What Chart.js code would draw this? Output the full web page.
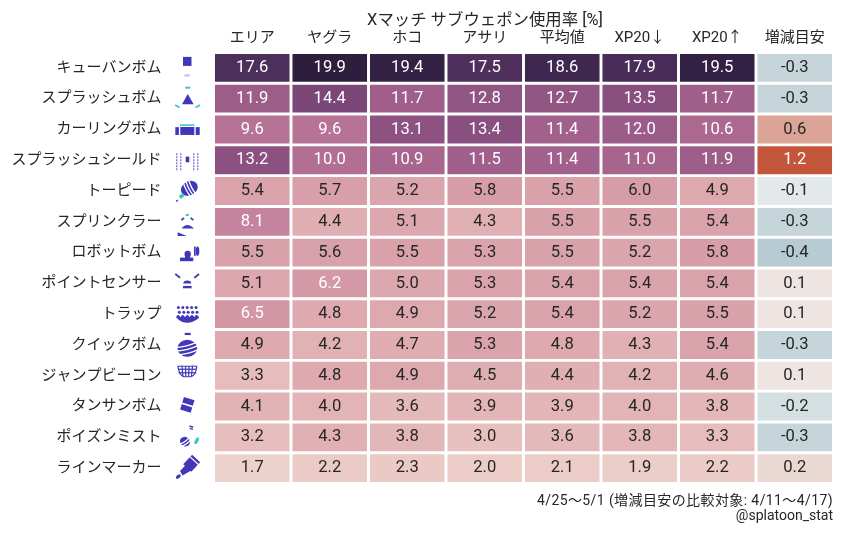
<!DOCTYPE html>
<html>
<head>
<meta charset="utf-8">
<script src="https://cdn.jsdelivr.net/npm/chart.js@4"></script>
<style>
  html,body{margin:0;padding:0;background:#fff;}
  #wrap{width:843px;height:533px;}
</style>
</head>
<body>
<div id="wrap"><canvas id="c" width="843" height="533"></canvas></div>
<script>
const FONT = 'Roboto, "Noto Sans CJK JP"';
const INK = "#262626";
const BLUE = "#4038b8";
const TEAL = "#3cc8c0";

// ---------- data ----------
const weapons = ["キューバンボム","スプラッシュボム","カーリングボム","スプラッシュシールド","トーピード","スプリンクラー","ロボットボム","ポイントセンサー","トラップ","クイックボム","ジャンプビーコン","タンサンボム","ポイズンミスト","ラインマーカー"];
const columns = ["エリア","ヤグラ","ホコ","アサリ","平均値","XP20↓","XP20↑","増減目安"];
const area   = [17.6,11.9,9.6,13.2,5.4,8.1,5.5,5.1,6.5,4.9,3.3,4.1,3.2,1.7];
const yagura = [19.9,14.4,9.6,10.0,5.7,4.4,5.6,6.2,4.8,4.2,4.8,4.0,4.3,2.2];
const hoko   = [19.4,11.7,13.1,10.9,5.2,5.1,5.5,5.0,4.9,4.7,4.9,3.6,3.8,2.3];
const asari  = [17.5,12.8,13.4,11.5,5.8,4.3,5.3,5.3,5.2,5.3,4.5,3.9,3.0,2.0];
const mean   = [18.6,12.7,11.4,11.4,5.5,5.5,5.5,5.4,5.4,4.8,4.4,3.9,3.6,2.1];
const xpLow  = [17.9,13.5,12.0,11.0,6.0,5.5,5.2,5.4,5.2,4.3,4.2,4.0,3.8,1.9];
const xpHigh = [19.5,11.7,10.6,11.9,4.9,5.4,5.8,5.4,5.5,5.4,4.6,3.8,3.3,2.2];
const delta  = [-0.3,-0.3,0.6,1.2,-0.1,-0.3,-0.4,0.1,0.1,-0.3,0.1,-0.2,-0.3,0.2];
const usage = [area,yagura,hoko,asari,mean,xpLow,xpHigh];

// ---------- colours ----------
// same maths as seaborn cubehelix_palette() defaults
function cubehelix(t){
  const x = .85-.7*t, a = .8*x*(1-x)/2, phi = 2*Math.PI*.4*x;
  const c = (p0,p1)=>Math.round(255*Math.min(1,Math.max(0,x+a*(p0*Math.cos(phi)+p1*Math.sin(phi)))));
  return [c(-.14861,1.78277),c(-.29227,-.90649),c(1.97294,0)];
}
const VMIN = 1.7, VMAX = 19.9, DMAX = 1.2;
function usageColor(v){ return cubehelix((v-VMIN)/(VMAX-VMIN)); }
function deltaColor(v){                     // diverging_palette(220,20)
  const end = v<0 ? [63,127,147] : [195,85,58];
  const t = Math.min(1,Math.abs(v)/DMAX);
  return end.map(e=>Math.round(242+(e-242)*t));
}
function cellColor(col,row){
  return col<usage.length ? usageColor(usage[col][row]) : deltaColor(delta[row]);
}
function lum(rgb){
  const l = rgb.map(v=>{v/=255;return v<=.03928 ? v/12.92 : Math.pow((v+.055)/1.055,2.4);});
  return .2126*l[0]+.7152*l[1]+.0722*l[2];
}
const css = rgb => `rgb(${rgb[0]},${rgb[1]},${rgb[2]})`;

// ---------- icons ----------
function rrect(ctx,x,y,w,h,rot){
  ctx.save();ctx.translate(x,y);ctx.rotate(rot||0);ctx.fillRect(-w/2,-h/2,w,h);ctx.restore();
}
function ell(ctx,x,y,rx,ry,rot){
  ctx.beginPath();ctx.ellipse(x,y,rx,ry,rot||0,0,Math.PI*2);ctx.fill();
}
function stripes(ctx,x,y,r,rot,ys){
  ctx.save();ctx.translate(x,y);ctx.rotate(rot);ctx.strokeStyle="#fff";ctx.lineWidth=1.3;
  ys.forEach(d=>{ctx.beginPath();ctx.moveTo(-r,d);ctx.quadraticCurveTo(0,d+2,r,d);ctx.stroke();});
  ctx.restore();
}
const icons = [
  (c)=>{ c.fillRect(-4,-11,8.5,9); c.fillStyle="#c8c6ea"; rrect(c,0,7.5,5,2.5); },
  (c)=>{ c.beginPath();c.moveTo(.7,-4.7);c.lineTo(6.7,5.6);c.lineTo(-5,5.6);c.closePath();c.fill();
         c.fillStyle=TEAL; rrect(c,.7,-11,5,2); rrect(c,-9.7,7.6,5,1.8,.5); rrect(c,10.7,7.6,5,1.8,-.5); },
  (c)=>{ c.fillRect(-6.7,-2.5,14,8); c.fillRect(-11.7,-2.3,3.6,7.8); c.fillRect(8.7,-2.3,4,7.8);
         c.fillStyle=TEAL; c.fillRect(-7,-5.2,14.3,1.6); },
  (c)=>{ c.fillRect(-1.3,-3.6,3.6,5.6); c.fillStyle="#7a74d2";
         [-10.3,-6.3,6.7,10.7].forEach(x=>{ for(let k=0;k<6;k++) c.fillRect(x-.6,-7+k*3,1.3,2); }); },
  (c)=>{ ell(c,2.3,-2.7,8.8,7,-.5); stripes(c,2.3,-2.7,9,1.1,[-3.5,-.5,2.5]);
         c.fillStyle=TEAL; rrect(c,-5.3,5,5,3.6,-.7); c.fillStyle=BLUE; rrect(c,-10,9.7,2,1.4,-.6); },
  (c)=>{ c.beginPath();c.moveTo(-5.5,6.8);c.quadraticCurveTo(0,-.5,7,6.8);c.closePath();c.fill();
         rrect(c,-4.3,-2.8,3.6,1.8,-.7); rrect(c,5,-2.8,3.6,1.8,.7);
         c.fillStyle=TEAL; rrect(c,.3,-6.9,3,2); },
  (c)=>{ c.beginPath();c.moveTo(-9.3,-20.4);c.lineTo(-.3,-16.7);c.lineTo(-9.3,-16.7);c.closePath();c.fill();
         c.fillRect(7,-6,1.6,9.3); ell(c,10.5,-1.4,1.8,4.6);
         ell(c,.7,1.3,3.2,3.2); c.fillRect(-7,5,13.3,3.6); c.fillRect(-2,3,5.2,3); },
  (c)=>{ rrect(c,-9.3,-7.5,6,1.8,.65); rrect(c,9.7,-7.5,6,1.8,-.65);
         c.beginPath();c.ellipse(.3,0,4,3,0,Math.PI,0);c.fill(); c.fillRect(-4,2.5,8.6,2.4); },
  (c)=>{ for(let r=0;r<2;r++) for(let k=0;k<5;k++) ell(c,-8.6+k*4.4+r,-6.6+r*4.6,1.5,1.5);
         c.beginPath();c.moveTo(-11,3);
         for(let k=0;k<5;k++){ c.quadraticCurveTo(-9+k*4.6,-1.5,-6.5+k*4.6,3); }
         c.lineTo(12.2,3.5);c.quadraticCurveTo(6,8.5,.5,8.5);c.quadraticCurveTo(-6,8.5,-11,3);c.fill(); },
  (c)=>{ rrect(c,.7,-11,6,2.2); ell(c,.3,3.3,9.8,8.6); stripes(c,.3,3.3,11,-.25,[-3.5,0,4]); },
  (c)=>{ c.strokeStyle=BLUE;c.lineWidth=1.2;
         c.beginPath();c.moveTo(-9,-9.5);c.lineTo(9.7,-9.5);c.quadraticCurveTo(9,-.5,4,1);c.lineTo(-3,1);c.quadraticCurveTo(-8,-.5,-9,-9.5);c.closePath();c.stroke();
         [-5,-1.5,2,5.5].forEach(x=>{c.beginPath();c.moveTo(x,-9.5);c.lineTo(x*.8,1);c.stroke();});
         [-6.5,-3].forEach(y=>{c.beginPath();c.moveTo(-8.5,y);c.lineTo(9.2,y);c.stroke();});
         c.fillStyle=TEAL; rrect(c,-5.5,-10.6,1.4,1); rrect(c,5.5,-10.6,1.4,1); },
  (c)=>{ rrect(c,.3,-1.6,11,13,.3); c.fillStyle="#fff"; rrect(c,.3,-1.6,13,1.7,.3); },
  (c)=>{ rrect(c,4.3,-10.7,4,1.5,.3); rrect(c,4.3,-8.4,3.4,1.3,.3);
         ell(c,-2,4.3,4.6,5.2,-1); stripes(c,-2,4.3,6,-.6,[-1,1.8]);
         c.fillStyle=TEAL; ell(c,9.7,3.3,1.7,3.8,.5); },
  (c)=>{ rrect(c,4.7,-4.9,11,13,.75); c.fillStyle="#fff"; rrect(c,7.2,-7.4,12,1.2,.75); c.fillStyle=BLUE;
         c.beginPath();c.moveTo(-.3,-4);c.lineTo(5,2);c.lineTo(-4.5,7.5);c.lineTo(-7,3);c.closePath();c.fill();
         ell(c,-8.7,8.5,2.8,1.7,-.6); }
];

// ---------- plugin: cell text, icons, title, footer ----------
const overlay = {
  id:"overlay",
  afterDatasetsDraw(chart){
    const ctx = chart.ctx, xs = chart.scales.x, ys = chart.scales.y;
    ctx.save();
    ctx.textAlign="center"; ctx.textBaseline="middle";
    ctx.font = `400 16.6px ${FONT}`;
    weapons.forEach((w,r)=>{
      const cy = ys.getPixelForValue(r+.5);
      columns.forEach((_,c)=>{
        const v = c<usage.length ? usage[c][r] : delta[r];
        ctx.fillStyle = lum(cellColor(c,r))>.408 ? INK : "#fff";
        ctx.fillText(v.toFixed(1),xs.getPixelForValue(c),cy);
      });
      ctx.save();
      ctx.translate(187,cy);
      ctx.fillStyle=BLUE;
      icons[r](ctx);
      ctx.restore();
    });
    ctx.fillStyle=INK;
    ctx.textBaseline="alphabetic";
    ctx.font = `400 16.4px ${FONT}`;
    ctx.fillText("Xマッチ サブウェポン使用率 [%]",485,25);
    ctx.textAlign="right";
    ctx.font = `400 14px ${FONT}`;
    ctx.letterSpacing = "0.4px";
    ctx.fillText("4/25〜5/1 (増減目安の比較対象: 4/11〜4/17)",833,505);
    ctx.letterSpacing = "0px";
    ctx.fillText("@splatoon_stat",833,520);
    ctx.restore();
  }
};

// ---------- chart ----------
new Chart(document.getElementById("c"),{
  type:"bar",
  data:{
    labels:columns,
    datasets:weapons.map((w,r)=>({
      label:w,
      data:columns.map(()=>[r,r+1]),
      backgroundColor:columns.map((_,c)=>css(cellColor(c,r))),
      borderColor:"#fff",
      borderWidth:1.8,
      borderSkipped:false,
      barPercentage:1,
      categoryPercentage:1
    }))
  },
  options:{
    responsive:false,
    animation:false,
    layout:{padding:{top:0,left:0,right:9.5,bottom:49.5}},
    plugins:{legend:{display:false},tooltip:{enabled:false},title:{display:false}},
    scales:{
      x:{
        position:"top",stacked:true,
        grid:{display:false,drawTicks:false},border:{display:false},
        ticks:{color:INK,font:{family:FONT,size:15,weight:400},padding:5,maxRotation:0},
        afterFit(s){s.height=52.5;}
      },
      y:{
        min:0,max:14,reverse:true,
        grid:{display:false,drawTicks:false},border:{display:false},
        afterBuildTicks(s){s.ticks=weapons.map((_,i)=>({value:i+.5}));},
        ticks:{color:INK,font:{family:FONT,size:15,weight:400},padding:52,autoSkip:false,
          callback:(v,i)=>weapons[i]},
        afterFit(s){s.width=213.5;s.paddingTop=0;s.paddingBottom=0;}  // labels sit inside the area, no overhang
      }
    }
  },
  plugins:[overlay]
});
</script>
</body>
</html>
